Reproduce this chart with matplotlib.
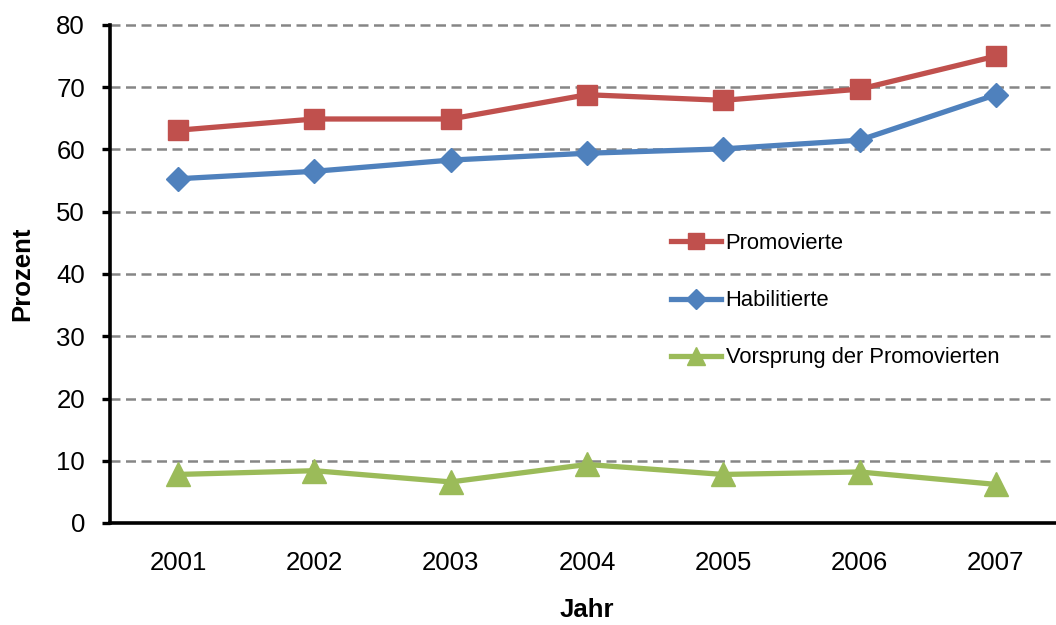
import matplotlib
matplotlib.use("Agg")
import matplotlib.pyplot as plt

# data
jahre = ["2001", "2002", "2003", "2004", "2005", "2006", "2007"]
promovierte = [63.1, 64.9, 64.9, 68.8, 67.9, 69.7, 75.0]
habilitierte = [55.3, 56.5, 58.3, 59.4, 60.1, 61.5, 68.8]
vorsprung = [7.8, 8.4, 6.6, 9.4, 7.8, 8.2, 6.2]

yticks = list(range(0, 81, 10))

plt.rcParams['font.family'] = ['Liberation Sans', 'DejaVu Sans']

fig = plt.figure(figsize=(10.56, 6.25), dpi=100)
ax = fig.add_axes([110 / 1056, 102 / 625, 954 / 1056, 498 / 625])

x = list(range(1, len(jahre) + 1))

ax.plot(x, promovierte, color='#C0504D', lw=3.8, marker='s', ms=14,
        label='Promovierte', zorder=3)
ax.plot(x, habilitierte, color='#4F81BD', lw=3.8, marker='D', ms=12.5,
        label='Habilitierte', zorder=3)
ax.plot(x, vorsprung, color='#9BBB59', lw=3.8, marker='^', ms=17,
        label='Vorsprung der Promovierten', zorder=3)

ax.set_xlim(0.5, 7.5)
ax.set_ylim(0, 80)
ax.set_xticks(x)
ax.set_xticklabels(jahre)
ax.set_yticks(yticks)

# dashed grid
for v in yticks[1:]:
    ax.axhline(v, color='#868686', lw=1.8, ls=(0, (4, 2.2)), zorder=1, clip_on=False)

for s in ['top', 'right']:
    ax.spines[s].set_visible(False)
for s in ['left', 'bottom']:
    ax.spines[s].set_linewidth(2.6)
    ax.spines[s].set_zorder(4)

ax.tick_params(axis='y', length=6, width=2.4, pad=12, labelsize=18.5)
ax.tick_params(axis='x', length=0, pad=20, labelsize=18.5)

ax.set_xlabel('Jahr', fontsize=18.5, fontweight='bold', labelpad=17)
ax.set_ylabel('Prozent', fontsize=18.5, fontweight='bold', labelpad=16)

leg = ax.legend(loc='upper left', bbox_to_anchor=(0.567, 0.622), frameon=False,
                handlelength=2.3, handletextpad=0.2,
                labelspacing=1.65, markerscale=0.8,
                prop={'family': ['Liberation Sans Narrow', 'Liberation Sans'], 'size': 15.8})

fig.savefig('out.png', dpi=100)
